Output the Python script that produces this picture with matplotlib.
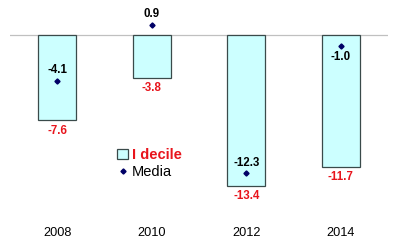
import matplotlib
matplotlib.use("Agg")
import matplotlib.pyplot as plt
from matplotlib.patches import Patch
from matplotlib.lines import Line2D

plt.rcParams['font.family'] = ['Liberation Sans', 'DejaVu Sans']

years = ["2008", "2010", "2012", "2014"]
decile = [-7.6, -3.8, -13.4, -11.7]
media = [-4.1, 0.9, -12.3, -1.0]
# put media label above (1) or below (-1) the point
media_side = [1, 1, 1, -1]

fig = plt.figure(figsize=(4, 2.42), dpi=100)
ax = fig.add_axes([10 / 400, 27 / 242, 378 / 400, 215 / 242])

x = range(len(years))
ax.bar(x, decile, width=0.4, color="#CCFFFF", edgecolor="#3A4A4A", linewidth=0.9, zorder=2)
ax.plot(x, media, linestyle="none", marker="D", markersize=2.6, color="#000066", zorder=3)
ax.axhline(0, color="#C0C0C0", linewidth=0.9, zorder=1)

for i in x:
    ax.text(i, decile[i] - 0.95, f"{decile[i]:.1f}", color="#E8141C", fontsize=8.3,
            fontweight="bold", ha="center", va="center")
    ax.text(i, media[i] + 0.95 * media_side[i], f"{media[i]:.1f}", color="black", fontsize=8.3,
            fontweight="bold", ha="center", va="center")

ax.set_xlim(-0.5, 3.5)
ax.set_ylim(-16.0, 3.11)
ax.set_xticks(list(x))
ax.set_xticklabels(years, fontsize=9.2)
ax.tick_params(axis="x", length=0, pad=9)
ax.set_yticks([])
for s in ax.spines.values():
    s.set_visible(False)

handles = [Patch(facecolor="#CCFFFF", edgecolor="#3A4A4A", linewidth=0.9),
           Line2D([], [], linestyle="none", marker="D", markersize=2.6, color="#000066")]
leg = fig.legend(handles, ["I decile", "Media"], loc="upper left",
                 bbox_to_anchor=(110 / 400, 1 - 141 / 242), frameon=False,
                 fontsize=10.5, handlelength=0.75, handletextpad=0.25, labelspacing=0.2,
                 borderpad=0)
leg.get_texts()[0].set_color("#E8141C")
leg.get_texts()[0].set_fontweight("bold")

fig.savefig("out.png", dpi=100)
